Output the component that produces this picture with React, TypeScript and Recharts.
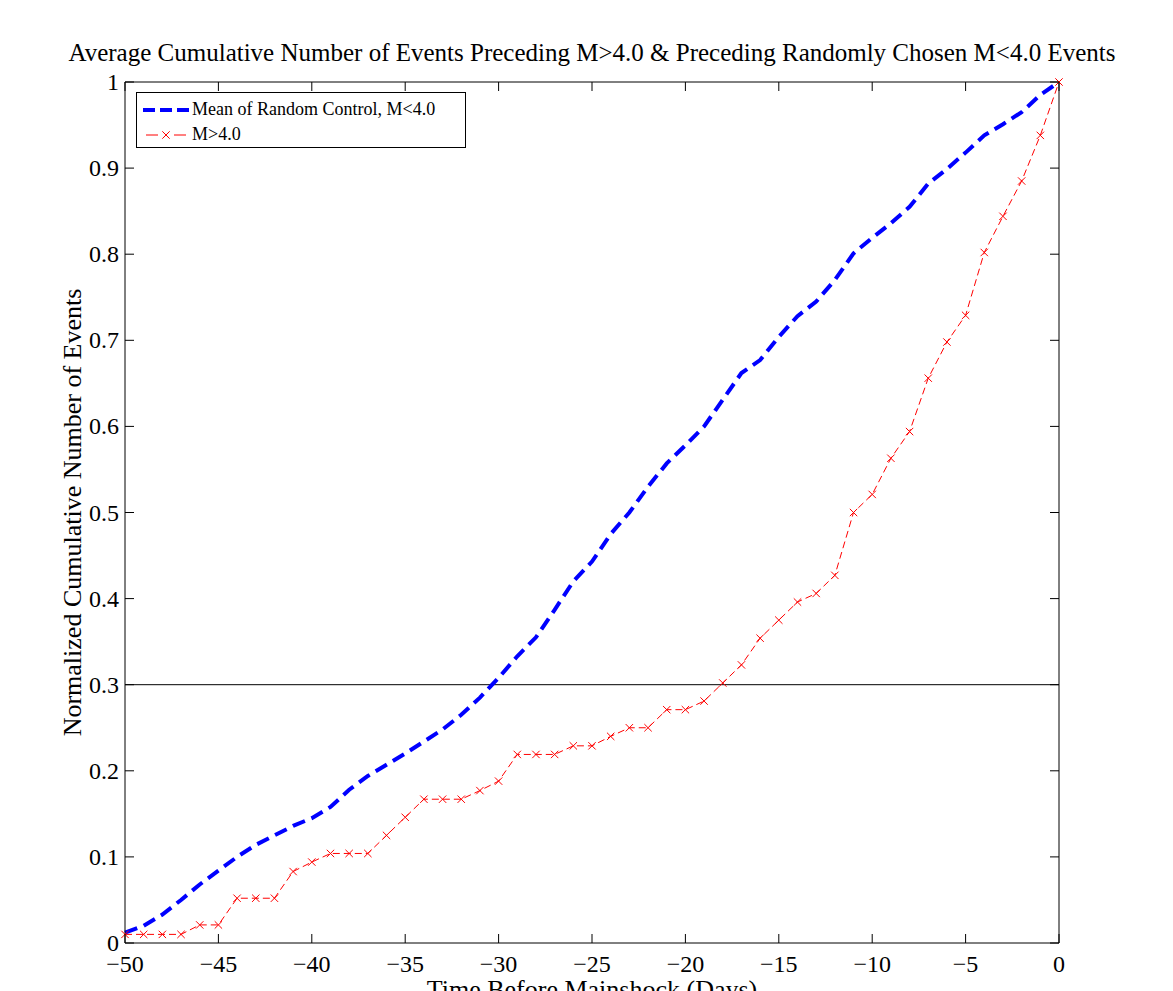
import React from 'react';
import { LineChart, Line, XAxis, YAxis, ReferenceLine, Legend } from 'recharts';

// ---------- data ----------
const days = [
  -50, -49, -48, -47, -46, -45, -44, -43, -42, -41,
  -40, -39, -38, -37, -36, -35, -34, -33, -32, -31,
  -30, -29, -28, -27, -26, -25, -24, -23, -22, -21,
  -20, -19, -18, -17, -16, -15, -14, -13, -12, -11,
  -10, -9, -8, -7, -6, -5, -4, -3, -2, -1, 0,
];

const controlMean = [
  0.012, 0.020, 0.033, 0.050, 0.068, 0.084, 0.100, 0.114, 0.125, 0.136,
  0.145, 0.158, 0.178, 0.194, 0.207, 0.220, 0.234, 0.248, 0.265, 0.285,
  0.308, 0.333, 0.355, 0.387, 0.420, 0.443, 0.475, 0.500, 0.530, 0.557,
  0.578, 0.600, 0.631, 0.662, 0.677, 0.704, 0.728, 0.745, 0.770, 0.801,
  0.819, 0.836, 0.855, 0.882, 0.899, 0.918, 0.938, 0.951, 0.965, 0.985, 1.0,
];

const largeEvents = [
  0.010, 0.010, 0.010, 0.010, 0.021, 0.021, 0.052, 0.052, 0.052, 0.083,
  0.094, 0.104, 0.104, 0.104, 0.125, 0.146, 0.167, 0.167, 0.167, 0.177,
  0.188, 0.219, 0.219, 0.219, 0.229, 0.229, 0.240, 0.250, 0.250, 0.271,
  0.271, 0.281, 0.302, 0.323, 0.354, 0.375, 0.396, 0.406, 0.427, 0.500,
  0.521, 0.563, 0.594, 0.656, 0.698, 0.729, 0.802, 0.844, 0.885, 0.938, 1.0,
];

const xTicks = [-50, -45, -40, -35, -30, -25, -20, -15, -10, -5, 0];
const yTicks = [0, 0.1, 0.2, 0.3, 0.4, 0.5, 0.6, 0.7, 0.8, 0.9, 1];
const yTickLabels = ['0', '0.1', '0.2', '0.3', '0.4', '0.5', '0.6', '0.7', '0.8', '0.9', '1'];
const thresholdLevel = 0.3;

const titleText =
  'Average Cumulative Number of Events Preceding M>4.0 & Preceding Randomly Chosen M<4.0 Events';
const xLabelText = 'Time Before Mainshock (Days)';
const yLabelText = 'Normalized Cumulative Number of Events';
const seriesNames = ['Mean of Random Control, M<4.0', 'M>4.0'];

const data = days.map((d, i) => ({ day: d, control: controlMean[i], large: largeEvents[i] }));

// ---------- styling ----------
const FONT = '"Liberation Serif", "Times New Roman", Times, serif';
const TICK_LEN = 9;
const BLUE = '#0000ff';
const RED = '#ff0000';

const fmtX = (v: number) => (v < 0 ? `\u2212${Math.abs(v)}` : `${v}`);

const BottomTick = (props: any) => {
  const { x, y, payload } = props;
  return (
    <g>
      <line x1={x} y1={y} x2={x} y2={y - TICK_LEN} stroke="#000" strokeWidth={1} />
      <text x={x} y={y + 29} textAnchor="middle" fontSize={24} fontFamily={FONT} fill="#000">
        {fmtX(payload.value)}
      </text>
    </g>
  );
};

const TopTick = (props: any) => {
  const { x, y } = props;
  return <line x1={x} y1={y} x2={x} y2={y + TICK_LEN} stroke="#000" strokeWidth={1} />;
};

const LeftTick = (props: any) => {
  const { x, y, payload, index } = props;
  const label = yTickLabels[index] ?? String(payload.value);
  return (
    <g>
      <line x1={x} y1={y} x2={x + TICK_LEN} y2={y} stroke="#000" strokeWidth={1} />
      <text x={x - 6} y={y + 8} textAnchor="end" fontSize={24} fontFamily={FONT} fill="#000">
        {label}
      </text>
    </g>
  );
};

const RightTick = (props: any) => {
  const { x, y } = props;
  return <line x1={x} y1={y} x2={x - TICK_LEN} y2={y} stroke="#000" strokeWidth={1} />;
};

const XMarker = (props: any) => {
  const { cx, cy, index } = props;
  if (cx == null || cy == null) return <g key={`m${index}`} />;
  const s = 3.7;
  return (
    <path
      key={`m${index}`}
      d={`M${cx - s},${cy - s}L${cx + s},${cy + s}M${cx - s},${cy + s}L${cx + s},${cy - s}`}
      stroke={RED}
      strokeWidth={1}
      strokeDasharray="none"
      fill="none"
    />
  );
};

const TitleLabel = (props: any) => {
  const vb = props.viewBox || {};
  return (
    <text
      x={vb.x + vb.width / 2}
      y={vb.y - 20}
      textAnchor="middle"
      fontSize={25}
      fontFamily={FONT}
      fill="#000"
    >
      {titleText}
    </text>
  );
};

const XLabel = (props: any) => {
  const vb = props.viewBox || {};
  return (
    <text
      x={vb.x + vb.width / 2}
      y={vb.y + vb.height + 54}
      textAnchor="middle"
      fontSize={26}
      fontFamily={FONT}
      fill="#000"
    >
      {xLabelText}
    </text>
  );
};

const YLabel = (props: any) => {
  const vb = props.viewBox || {};
  const cx = vb.x - 43;
  const cy = vb.y + vb.height / 2;
  return (
    <text
      x={cx}
      y={cy}
      transform={`rotate(-90, ${cx}, ${cy})`}
      textAnchor="middle"
      fontSize={26}
      fontFamily={FONT}
      fill="#000"
    >
      {yLabelText}
    </text>
  );
};

const LegendBox = () => (
  <div
    style={{
      border: '1px solid #000',
      background: '#fff',
      width: 328,
      height: 54,
      boxSizing: 'content-box',
      fontFamily: FONT,
      fontSize: 18,
      color: '#000',
      position: 'relative',
    }}
  >
    <svg width={60} height={54} style={{ position: 'absolute', left: 0, top: 0 }}>
      <line x1={6} y1={17} x2={52} y2={17} stroke={BLUE} strokeWidth={4} strokeDasharray="12 5" />
      <line x1={9} y1={42} x2={49} y2={42} stroke={RED} strokeWidth={1} strokeDasharray="12 16" />
      <path d="M25.3,38.3L32.7,45.7M25.3,45.7L32.7,38.3" stroke={RED} strokeWidth={1} fill="none" />
    </svg>
    <div style={{ position: 'absolute', left: 55, top: 6, whiteSpace: 'nowrap', lineHeight: '21px' }}>
      {seriesNames[0]}
    </div>
    <div style={{ position: 'absolute', left: 55, top: 31, whiteSpace: 'nowrap', lineHeight: '21px' }}>
      {seriesNames[1]}
    </div>
  </div>
);

export default function App() {
  return (
    <div style={{ position: 'relative', width: 1165, height: 983, background: '#fff' }}>
      <LineChart
        width={1165}
        height={983}
        data={data}
        margin={{ top: 73, right: 113, bottom: 47, left: 116 }}
        style={{ background: '#fff' }}
      >
        <XAxis
          dataKey="day"
          type="number"
          domain={[-50, 0]}
          ticks={xTicks}
          interval={0}
          height={1}
          tickSize={0}
          tickMargin={0}
          tickLine={false}
          axisLine={{ stroke: '#000', strokeWidth: 1 }}
          tick={<BottomTick />}
          label={<XLabel />}
        />
        <XAxis
          xAxisId="top"
          orientation="top"
          dataKey="day"
          type="number"
          domain={[-50, 0]}
          allowDataOverflow
          ticks={xTicks}
          interval={0}
          height={1}
          tickSize={0}
          tickMargin={0}
          tickLine={false}
          axisLine={{ stroke: '#000', strokeWidth: 1 }}
          tick={<TopTick />}
          label={<TitleLabel />}
        />
        <YAxis
          type="number"
          domain={[0, 1]}
          ticks={yTicks}
          interval={0}
          width={1}
          tickSize={0}
          tickMargin={0}
          tickLine={false}
          axisLine={{ stroke: '#000', strokeWidth: 1 }}
          tick={<LeftTick />}
          label={<YLabel />}
        />
        <YAxis
          yAxisId="right"
          orientation="right"
          type="number"
          domain={[0, 1]}
          allowDataOverflow
          ticks={yTicks}
          interval={0}
          width={1}
          tickSize={0}
          tickMargin={0}
          tickLine={false}
          axisLine={{ stroke: '#000', strokeWidth: 1 }}
          tick={<RightTick />}
        />
        <ReferenceLine y={thresholdLevel} stroke="#000" strokeWidth={1} ifOverflow="extendDomain" />
        <Line
          type="linear"
          dataKey="control"
          name={seriesNames[0]}
          stroke={BLUE}
          strokeWidth={4}
          strokeDasharray="13 7"
          dot={false}
          activeDot={false}
          isAnimationActive={false}
        />
        <Line
          type="linear"
          dataKey="large"
          name={seriesNames[1]}
          stroke={RED}
          strokeWidth={1}
          strokeDasharray="7 4"
          dot={<XMarker />}
          activeDot={false}
          isAnimationActive={false}
        />
        <Legend
          layout="vertical"
          align="center"
          verticalAlign="middle"
          content={<LegendBox />}
          wrapperStyle={{ position: 'absolute', left: 128, top: 84, width: 'auto', height: 'auto' }}
        />
      </LineChart>
    </div>
  );
}
